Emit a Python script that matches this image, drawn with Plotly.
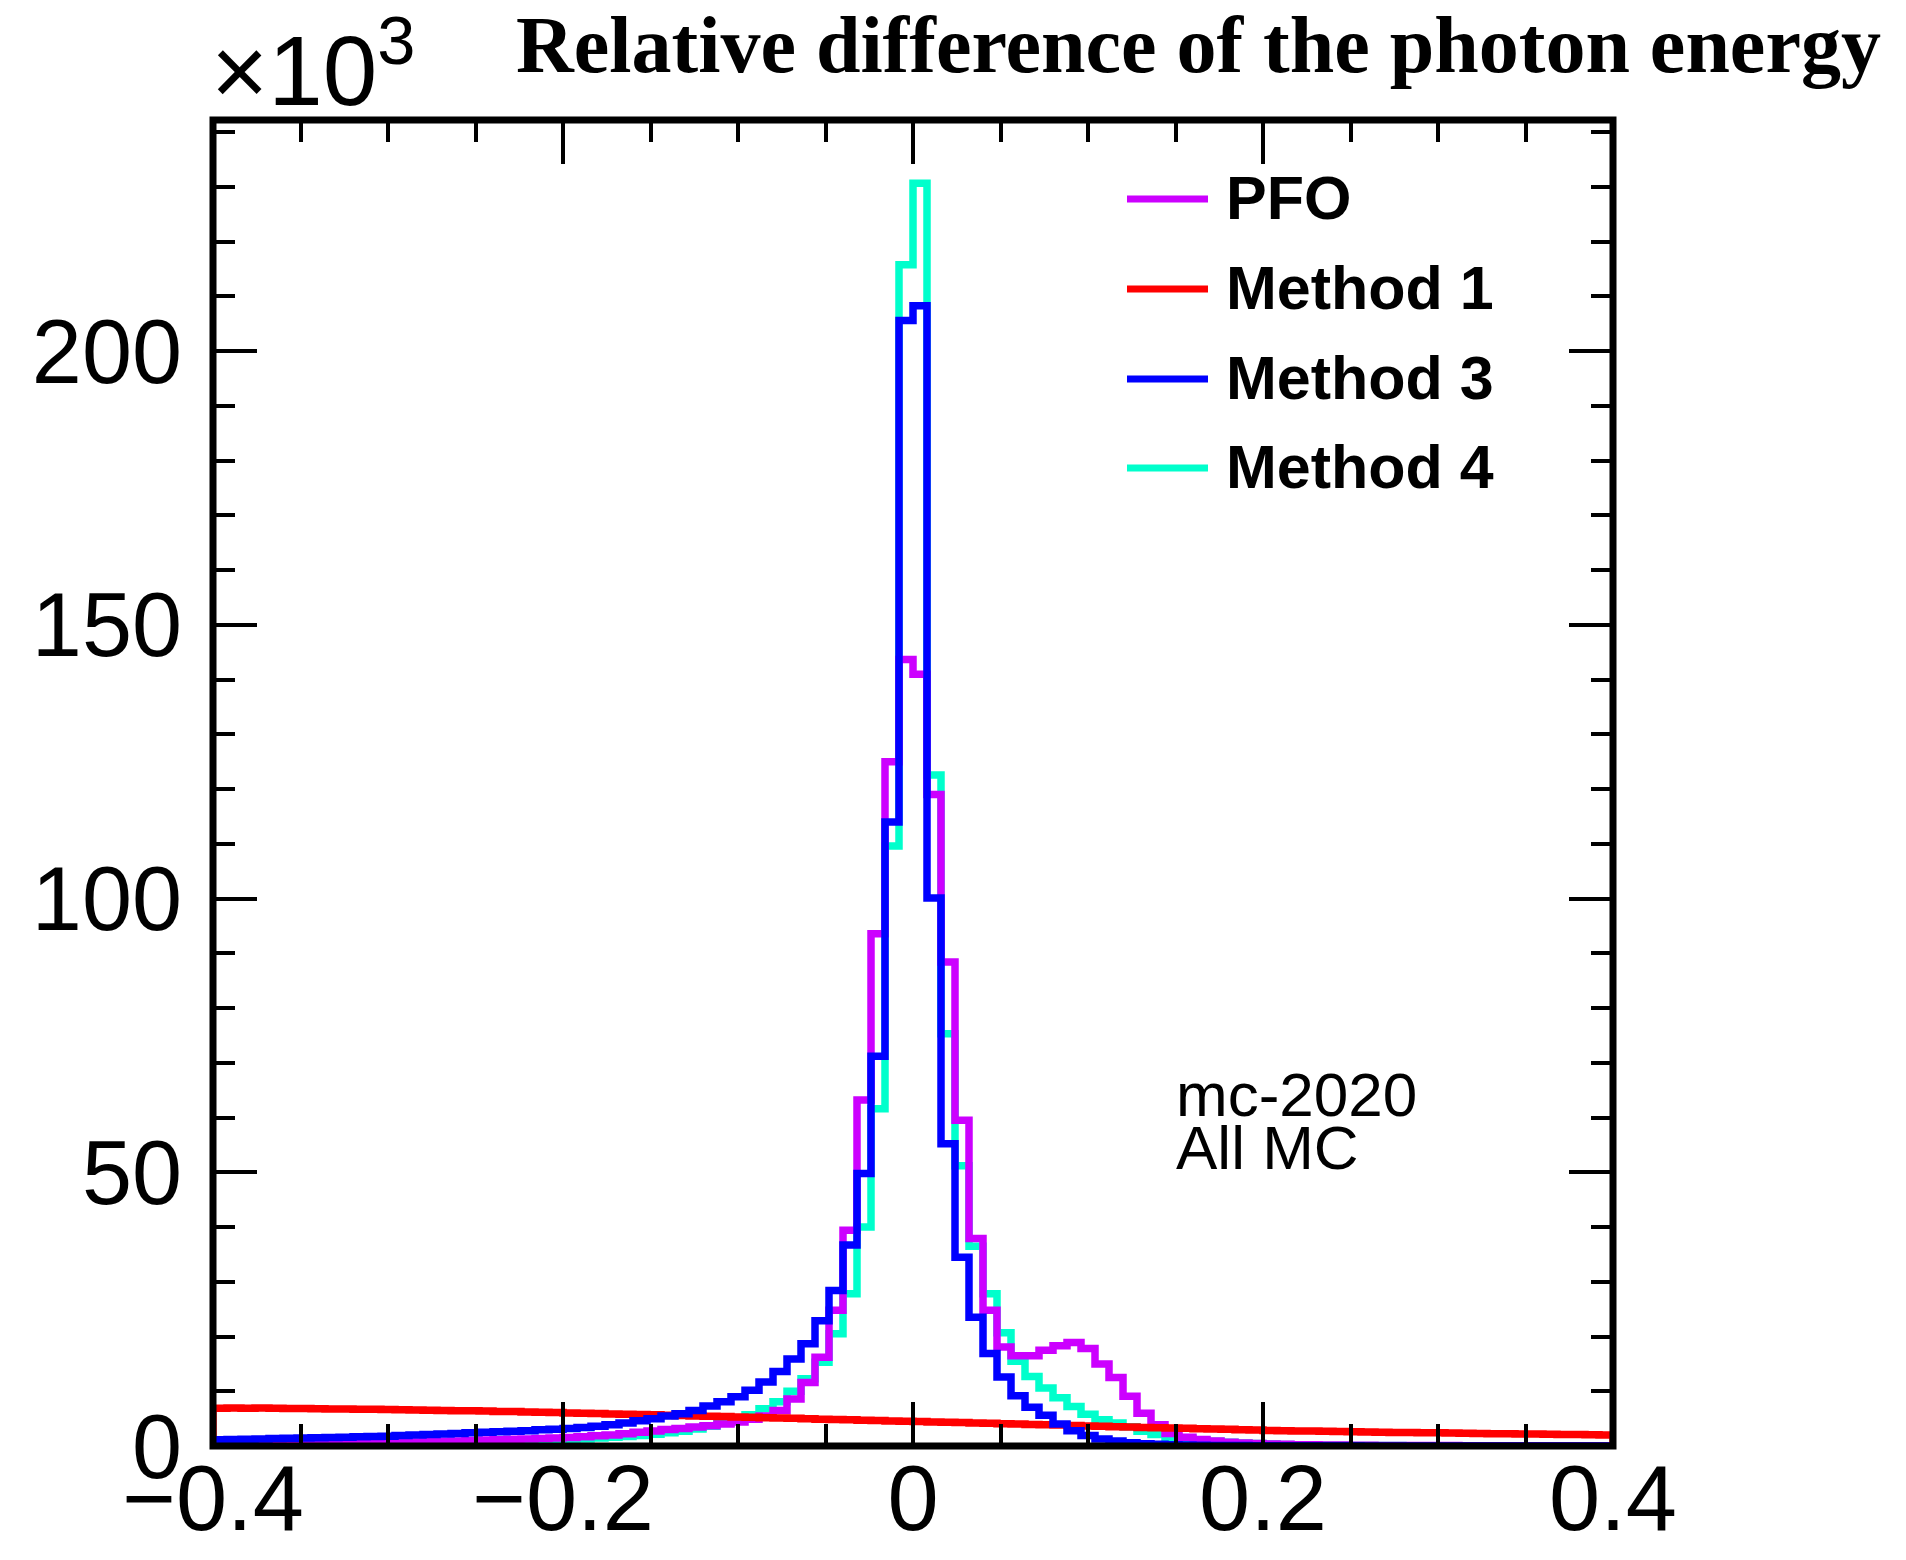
import plotly.graph_objects as go
import numpy as np

# ---------------- data (counts in units of 10^3) ----------------
x_min, x_max, n_bins = -0.4, 0.4, 100

pfo = [0.20, 0.22, 0.25, 0.28, 0.30, 0.33, 0.36, 0.40, 0.43, 0.47,
       0.50, 0.55, 0.60, 0.66, 0.72, 0.78, 0.85, 0.92, 1.00, 1.08,
       1.15, 1.22, 1.30, 1.38, 1.45, 1.55, 1.70, 1.85, 2.00, 2.25,
       2.50, 2.75, 3.00, 3.20, 3.45, 3.70, 4.00, 4.40, 4.90, 5.50,
       6.50, 8.60, 11.6, 16.2, 24.8, 39.4, 63.2, 93.6, 125.0, 143.7,
       141.0, 119.0, 88.4, 59.5, 37.9, 24.8, 18.1, 16.5, 16.5, 17.5,
       18.3, 18.9, 17.8, 15.0, 12.5, 9.1, 6.0, 3.9, 2.3, 1.6,
       1.2, 0.9, 0.7, 0.55, 0.45, 0.35, 0.30, 0.25, 0.21, 0.18,
       0.16, 0.14, 0.12, 0.11, 0.10, 0.09, 0.08, 0.07, 0.07, 0.06,
       0.06, 0.05, 0.05, 0.05, 0.04, 0.04, 0.04, 0.03, 0.03, 0.03]

method1 = [6.90, 6.95, 6.90, 6.92, 6.88, 6.85, 6.87, 6.80, 6.78, 6.75,
           6.72, 6.70, 6.65, 6.62, 6.58, 6.55, 6.50, 6.45, 6.42, 6.38,
           6.32, 6.28, 6.22, 6.18, 6.10, 6.02, 5.98, 5.92, 5.86, 5.80,
           5.75, 5.70, 5.62, 5.58, 5.50, 5.45, 5.38, 5.30, 5.25, 5.18,
           5.10, 5.05, 4.98, 4.90, 4.85, 4.78, 4.70, 4.65, 4.58, 4.52,
           4.48, 4.40, 4.35, 4.28, 4.20, 4.15, 4.05, 4.00, 3.95, 3.88,
           3.82, 3.75, 3.65, 3.60, 3.52, 3.45, 3.40, 3.35, 3.28, 3.22,
           3.15, 3.10, 3.05, 2.98, 2.92, 2.85, 2.80, 2.76, 2.72, 2.68,
           2.64, 2.60, 2.57, 2.52, 2.48, 2.45, 2.42, 2.40, 2.36, 2.33,
           2.30, 2.26, 2.23, 2.20, 2.17, 2.14, 2.10, 2.08, 2.05, 2.02]

method3 = [1.15, 1.20, 1.25, 1.30, 1.35, 1.40, 1.45, 1.50, 1.55, 1.60,
           1.70, 1.75, 1.80, 1.90, 2.00, 2.10, 2.20, 2.30, 2.40, 2.50,
           2.60, 2.70, 2.80, 2.95, 3.05, 3.20, 3.40, 3.60, 3.90, 4.20,
           4.60, 5.00, 5.50, 5.90, 6.50, 7.30, 8.10, 9.00, 10.2, 11.7,
           13.6, 15.9, 18.7, 22.9, 28.4, 36.7, 49.8, 71.2, 114.0, 205.6,
           208.3, 100.1, 55.2, 34.5, 23.5, 16.9, 12.6, 9.2, 7.1, 5.6,
           4.0, 2.8, 1.9, 1.3, 0.90, 0.60, 0.42, 0.30, 0.22, 0.16,
           0.12, 0.10, 0.08, 0.07, 0.06, 0.05, 0.05, 0.04, 0.04, 0.03,
           0.03, 0.03, 0.02, 0.02, 0.02, 0.02, 0.02, 0.01, 0.01, 0.01,
           0.01, 0.01, 0.01, 0.01, 0.01, 0.01, 0.01, 0.01, 0.01, 0.01]

method4 = [0.08, 0.09, 0.10, 0.11, 0.12, 0.14, 0.16, 0.18, 0.20, 0.22,
           0.25, 0.28, 0.31, 0.35, 0.39, 0.43, 0.48, 0.53, 0.59, 0.65,
           0.72, 0.80, 0.88, 0.97, 1.07, 1.18, 1.30, 1.45, 1.60, 1.75,
           1.90, 2.15, 2.40, 2.70, 3.10, 3.60, 4.20, 4.90, 5.70, 6.80,
           8.10, 10.0, 12.3, 15.3, 20.5, 27.8, 40.0, 61.6, 109.6, 215.8,
           230.7, 122.6, 75.3, 51.2, 36.5, 27.8, 20.7, 15.5, 12.7, 10.6,
           8.8, 7.2, 5.8, 4.8, 4.2, 3.5, 2.7, 2.1, 1.6, 1.3,
           1.05, 0.85, 0.70, 0.55, 0.45, 0.35, 0.28, 0.22, 0.18, 0.15,
           0.12, 0.10, 0.09, 0.08, 0.07, 0.06, 0.05, 0.05, 0.04, 0.04,
           0.03, 0.03, 0.03, 0.02, 0.02, 0.02, 0.02, 0.02, 0.01, 0.01]

series_names = ["PFO", "Method 1", "Method 3", "Method 4"]
series_colors = ["#CC00FF", "#FF0000", "#0000FF", "#00FFCC"]
series_values = [pfo, method1, method3, method4]

x_tick_vals = [-0.4, -0.2, 0, 0.2, 0.4]
x_tick_text = ["\u22120.4", "\u22120.2", "0", "0.2", "0.4"]
y_tick_vals = [0, 50, 100, 150, 200]
y_tick_text = ["0", "50", "100", "150", "200"]
y_max = 1.05 * max(max(v) for v in series_values)

title_text = "Relative difference of the photon energy"
info_lines = ["mc-2020", "All MC"]

# ---------------- figure ----------------
W, H = 1906, 1560
L, R, T, B = 213, 1613, 120, 1446
PW, PH = R - L, B - T


def px2x(px):
    return (px - L) / PW


def py2y(py):
    return (B - py) / PH


edges = np.linspace(x_min, x_max, n_bins + 1)

fig = go.Figure()
draw_order = [3, 0, 1, 2]
for k in draw_order:
    vals = series_values[k]
    xs = [x_min] + list(edges)
    ys = [0] + list(vals) + [0]
    fig.add_trace(go.Scatter(
        x=xs, y=ys, mode="lines", line_shape="hv",
        line=dict(color=series_colors[k], width=7.5),
        name=series_names[k], showlegend=False, hoverinfo="skip"))

sans = "Liberation Sans, Arial, Helvetica, sans-serif"

fig.update_xaxes(
    range=[x_min, x_max], tickvals=x_tick_vals, ticktext=x_tick_text,
    ticks="inside", ticklen=44, tickwidth=4, tickcolor="black",
    mirror="ticks", showline=False, showgrid=False, zeroline=False,
    automargin=False,
    tickfont=dict(family=sans, size=92, color="black"), ticklabelstandoff=-9,
    minor=dict(dtick=0.05, tick0=0, ticks="inside", ticklen=22, tickwidth=4,
               tickcolor="black", showgrid=False))
fig.update_yaxes(
    range=[0, y_max], tickvals=y_tick_vals, ticktext=y_tick_text,
    ticks="inside", ticklen=44, tickwidth=4, tickcolor="black",
    mirror="ticks", showline=False, showgrid=False, zeroline=False,
    automargin=False,
    tickfont=dict(family=sans, size=90, color="black"), ticklabelstandoff=30,
    ticklabelshift=0,
    minor=dict(dtick=10, tick0=0, ticks="inside", ticklen=22, tickwidth=4,
               tickcolor="black", showgrid=False))

shapes = [dict(type="rect", xref="paper", yref="paper", x0=0, x1=1, y0=0, y1=1,
               line=dict(color="black", width=7), layer="above")]
annotations = []

# legend (drawn manually to match the ROOT-style legend box)
leg_rows = [199, 289, 379, 468]
for name, col, yy in zip(series_names, series_colors, leg_rows):
    shapes.append(dict(type="line", xref="paper", yref="paper",
                       x0=px2x(1127), x1=px2x(1208), y0=py2y(yy), y1=py2y(yy),
                       line=dict(color=col, width=7)))
    annotations.append(dict(xref="paper", yref="paper", x=px2x(1224), y=py2y(yy - 1),
                            xanchor="left", yanchor="middle", showarrow=False,
                            text="<b>%s</b>" % name, height=70,
                            font=dict(family=sans, size=61, color="black")))

# info text
for line, yy in zip(info_lines, [1094, 1147]):
    annotations.append(dict(xref="paper", yref="paper", x=px2x(1174), y=py2y(yy),
                            xanchor="left", yanchor="middle", showarrow=False, text=line,
                            height=46,
                            font=dict(family=sans, size=62, color="black")))

# exponent label
annotations.append(dict(xref="paper", yref="paper", x=px2x(209), y=py2y(64),
                        xanchor="left", yanchor="middle", showarrow=False,
                        text="\u00d710<sup>3</sup>",
                        font=dict(family=sans, size=98, color="black")))

# title
annotations.append(dict(xref="paper", yref="paper", x=px2x(1882), y=py2y(45),
                        xanchor="right", yanchor="middle", showarrow=False,
                        text="<b>%s</b>" % title_text, borderpad=0,
                        font=dict(family="Liberation Serif, Times New Roman, serif", size=80, color="black")))

fig.update_layout(
    width=W, height=H,
    margin=dict(l=L, r=W - R, t=T, b=H - B, pad=0, autoexpand=False),
    plot_bgcolor="white", paper_bgcolor="white",
    showlegend=False, shapes=shapes, annotations=annotations)

fig.write_html("out.html")
